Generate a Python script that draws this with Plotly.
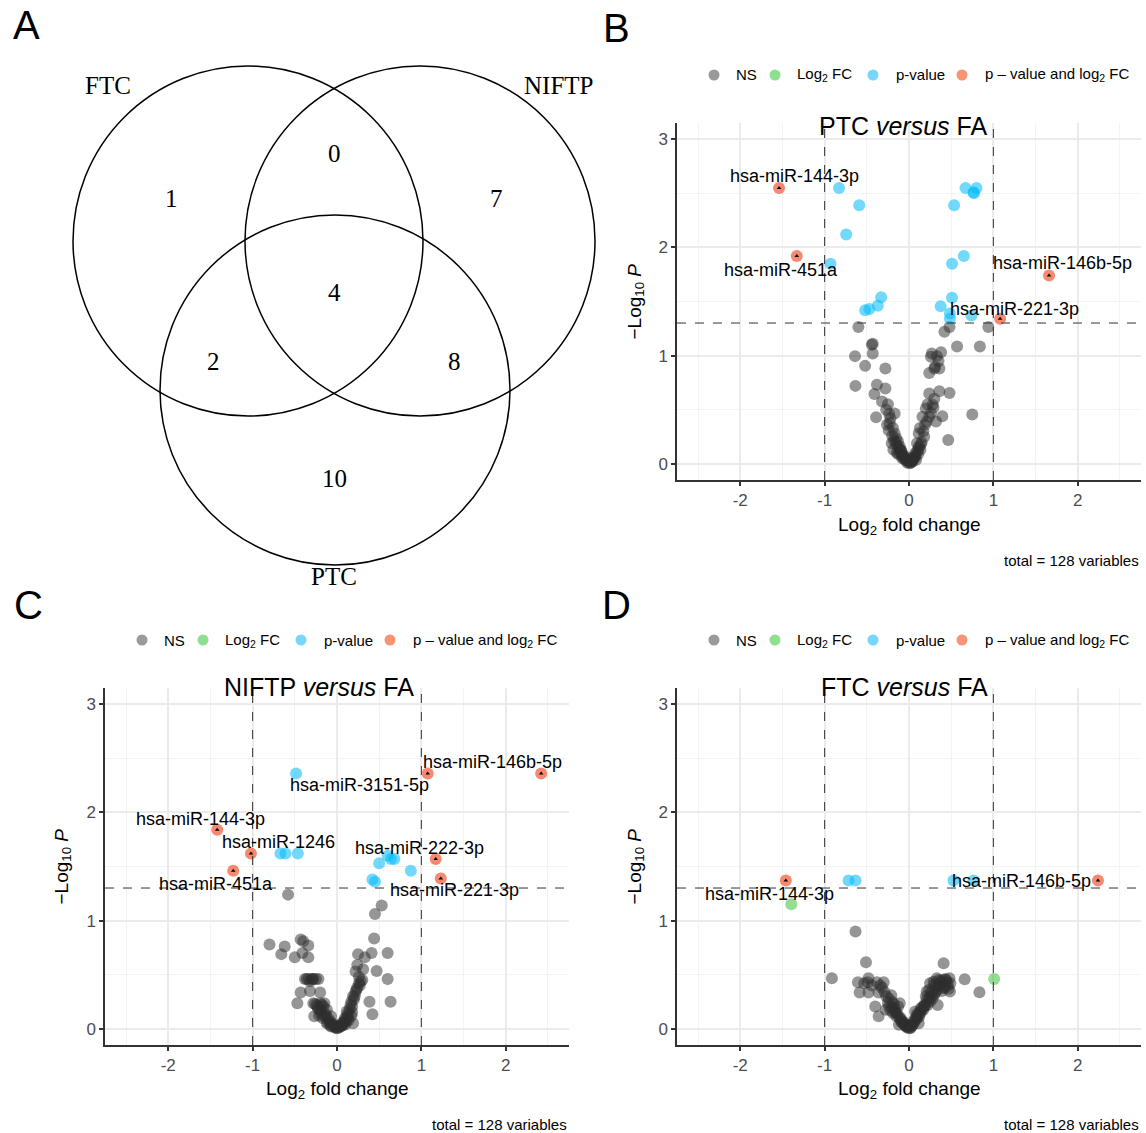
import math
import plotly.graph_objects as go

W, H = 1146, 1133

def P(x):
    return x / W

def Q(y):
    return 1 - y / H

# ---------------- DATA ----------------
# Venn counts
venn_sets = ["FTC", "NIFTP", "PTC"]
venn_counts = {"FTC": 1, "NIFTP": 7, "PTC": 10, "FTC&NIFTP": 0, "FTC&PTC": 2,
               "NIFTP&PTC": 8, "ALL": 4}

categories = ["NS", "Log<sub>2</sub> FC", "p-value", "p \u2013 value and log<sub>2</sub> FC"]

# Panel B: PTC versus FA
b_ns_fc = [-0.60, -0.43, -0.44, -0.43, -0.64, -0.52, -0.28, -0.635, -0.38, -0.28, -0.41, -0.32, -0.25,
           -0.39, -0.235, -0.17, -0.23, -0.19, -0.17, -0.15, -0.13, -0.185, -0.11, -0.09, -0.07, -0.04,
           -0.01, -0.11, -0.145, -0.08, -0.205, -0.24, -0.16, -0.12, -0.10, -0.06, -0.05, -0.03, -0.02,
           -0.14, -0.20, -0.22, -0.27, -0.13, -0.08, -0.18, -0.26, -0.09, -0.05,
           0.42, 0.48, 0.94, 0.57, 0.84, 0.27, 0.38, 0.33, 0.26, 0.31, 0.36, 0.24, 0.24, 0.36, 0.48,
           0.22, 0.28, 0.20, 0.16, 0.24, 0.32, 0.395, 0.75, 0.465, 0.115, 0.13, 0.095, 0.115, 0.075,
           0.055, 0.03, 0.025, 0.085, 0.135, 0.18, 0.21, 0.01, 0.04, 0.06, 0.10, 0.15, 0.17, 0.19,
           0.26, 0.29, 0.30, 0.02, 0.07, 0.12, 0.35, 0.30, 0.08, 0.14, 0.05, 0.11]
b_ns_p = [1.265, 1.11, 1.10, 1.02, 0.995, 0.905, 0.88, 0.72, 0.73, 0.695, 0.645, 0.575, 0.55,
          0.43, 0.46, 0.465, 0.375, 0.33, 0.28, 0.235, 0.205, 0.13, 0.16, 0.11, 0.08, 0.05,
          0.02, 0.10, 0.105, 0.05, 0.19, 0.31, 0.20, 0.14, 0.13, 0.06, 0.04, 0.03, 0.01,
          0.17, 0.26, 0.42, 0.50, 0.09, 0.07, 0.22, 0.36, 0.12, 0.07,
          1.22, 1.265, 1.265, 1.085, 1.085, 1.02, 1.03, 0.995, 0.99, 0.895, 0.88, 0.84, 0.65, 0.67, 0.655,
          0.55, 0.545, 0.51, 0.435, 0.435, 0.39, 0.44, 0.455, 0.22, 0.28, 0.33, 0.19, 0.145, 0.10,
          0.05, 0.03, 0.012, 0.037, 0.13, 0.25, 0.39, 0.005, 0.02, 0.07, 0.12, 0.20, 0.30, 0.36,
          0.47, 0.52, 0.60, 0.015, 0.06, 0.16, 0.95, 0.88, 0.08, 0.18, 0.04, 0.09]
b_pv_fc = [-0.83, -0.59, -0.745, -0.93, -0.33, -0.37, -0.47, -0.52,
           0.67, 0.80, 0.77, 0.765, 0.535, 0.65, 0.51, 0.51, 0.375, 0.485, 0.485, 0.74]
b_pv_p = [2.55, 2.39, 2.12, 1.85, 1.54, 1.46, 1.43, 1.42,
          2.55, 2.55, 2.50, 2.51, 2.39, 1.92, 1.85, 1.535, 1.455, 1.39, 1.34, 1.37]
b_both_fc = [-1.54, -1.33, 1.66, 1.08]
b_both_p = [2.55, 1.92, 1.74, 1.34]
b_fc_fc = []
b_fc_p = []
b_lab_names = ["hsa-miR-144-3p", "hsa-miR-451a", "hsa-miR-146b-5p", "hsa-miR-221-3p"]

# Panel C: NIFTP versus FA
c_ns_fc = [-0.58, 0.53, 0.45, 0.44, -0.80, -0.62, -0.66, -0.43, -0.40, -0.34, -0.41, -0.50, -0.34,
           0.25, 0.33, 0.41, 0.60, 0.24, 0.22, 0.26, 0.47, 0.60, 0.635, 0.42, -0.34, -0.28, -0.22,
           -0.32, -0.43, -0.32, -0.20, -0.47, -0.28, -0.195, -0.15, -0.27, -0.15, -0.07, -0.12, -0.09,
           -0.04, -0.01, 0.01, 0.055, 0.095, 0.135, 0.18, 0.17, 0.19, 0.22, 0.26, 0.30, 0.19, 0.385,
           0.115, -0.195, -0.16, 0.065, -0.25, -0.30, -0.24, -0.18, -0.22, -0.13, -0.10, -0.06, -0.03,
           0.03, 0.08, 0.12, 0.15, 0.21, 0.24, 0.28, 0.14, 0.10, -0.17, -0.11, -0.05, 0.02, 0.05,
           0.16, 0.23, -0.36, -0.26, -0.21, 0.31, 0.20, -0.08, 0.07, -0.14, 0.13, -0.02, 0.04,
           -0.29, -0.38, -0.23, 0.27, 0.18, 0.11, -0.12, -0.07, 0.09, 0.00, -0.19, 0.17]
c_ns_p = [1.24, 1.14, 1.06, 0.835, 0.78, 0.76, 0.69, 0.826, 0.81, 0.77, 0.70, 0.66, 0.66,
          0.69, 0.66, 0.70, 0.70, 0.59, 0.53, 0.48, 0.535, 0.46, 0.25, 0.135, 0.46, 0.46, 0.46,
          0.44, 0.335, 0.35, 0.335, 0.235, 0.235, 0.235, 0.235, 0.115, 0.115, 0.115, 0.175, 0.07,
          0.04, 0.012, 0.02, 0.05, 0.10, 0.145, 0.205, 0.25, 0.30, 0.34, 0.42, 0.45, 0.05, 0.25,
          0.16, 0.145, 0.205, 0.03, 0.46, 0.46, 0.22, 0.22, 0.18, 0.12, 0.09, 0.05, 0.02,
          0.02, 0.06, 0.12, 0.18, 0.30, 0.38, 0.44, 0.08, 0.04, 0.10, 0.06, 0.03, 0.01, 0.03,
          0.22, 0.36, 0.46, 0.23, 0.12, 0.55, 0.27, 0.03, 0.04, 0.14, 0.10, 0.01, 0.02,
          0.46, 0.46, 0.20, 0.40, 0.15, 0.07, 0.05, 0.02, 0.08, 0.005, 0.17, 0.12]
c_pv_fc = [-0.485, -0.67, -0.61, -0.465, 0.50, 0.60, 0.64, 0.68, 0.875, 0.42, 0.45]
c_pv_p = [2.36, 1.62, 1.62, 1.62, 1.53, 1.60, 1.57, 1.57, 1.46, 1.38, 1.36]
c_both_fc = [2.42, 1.075, -1.42, -1.02, -1.23, 1.17, 1.23]
c_both_p = [2.36, 2.36, 1.84, 1.62, 1.46, 1.57, 1.39]
c_fc_fc = []
c_fc_p = []
c_lab_names = ["hsa-miR-146b-5p", "hsa-miR-3151-5p", "hsa-miR-144-3p", "hsa-miR-1246",
               "hsa-miR-222-3p", "hsa-miR-451a", "hsa-miR-221-3p"]

# Panel D: FTC versus FA
d_ns_fc = [-0.634, -0.51, -0.914, -0.605, -0.48, -0.49, -0.38, -0.30, -0.585, -0.48, -0.36, -0.21,
           -0.40, -0.36, -0.275, -0.235, -0.17, -0.13, -0.19, -0.15, -0.12, -0.10, -0.07, -0.037,
           -0.008, 0.025, 0.053, 0.095, 0.136, 0.17, 0.22, 0.25, 0.34, 0.20, 0.21, 0.24, 0.25, 0.29,
           0.33, 0.40, 0.48, 0.66, 0.41, 0.485, 0.835, 0.36, 0.30, 0.115, 0.074, -0.11,
           -0.25, -0.20, -0.16, -0.09, -0.05, -0.02, 0.01, 0.04, 0.07, 0.11, 0.15, 0.19, 0.27, 0.31,
           0.35, 0.38, 0.44, 0.46, 0.42, 0.37, 0.28, 0.23, 0.18, 0.13, 0.08, -0.06, -0.14, -0.22,
           -0.27, -0.32, -0.44, -0.53, 0.45, 0.39, 0.32, 0.26, 0.16, 0.10, 0.03, -0.03, -0.08, -0.18,
           -0.24, -0.29, -0.34, 0.43, 0.35, 0.30, 0.21, 0.14, 0.06, -0.04, -0.12, -0.20, 0.49, 0.02,
           0.12, 0.24, 0.34, -0.10, -0.16, 0.47, 0.41, 0.28, 0.18, 0.09]
d_ns_p = [0.90, 0.615, 0.467, 0.43, 0.467, 0.43, 0.43, 0.43, 0.335, 0.335, 0.335, 0.31,
          0.205, 0.115, 0.175, 0.205, 0.19, 0.205, 0.145, 0.115, 0.037, 0.083, 0.068, 0.037,
          0.015, 0.02, 0.05, 0.10, 0.145, 0.175, 0.22, 0.25, 0.22, 0.30, 0.345, 0.36, 0.42, 0.435,
          0.467, 0.45, 0.467, 0.457, 0.605, 0.345, 0.337, 0.39, 0.32, 0.05, 0.16, 0.235,
          0.24, 0.20, 0.15, 0.06, 0.03, 0.01, 0.005, 0.03, 0.07, 0.12, 0.17, 0.21, 0.30, 0.33,
          0.40, 0.42, 0.45, 0.40, 0.38, 0.44, 0.28, 0.26, 0.22, 0.16, 0.09, 0.05, 0.14, 0.17,
          0.30, 0.38, 0.40, 0.42, 0.43, 0.35, 0.40, 0.33, 0.20, 0.14, 0.04, 0.02, 0.06, 0.23,
          0.28, 0.34, 0.40, 0.46, 0.45, 0.41, 0.27, 0.19, 0.08, 0.03, 0.11, 0.25, 0.42, 0.01,
          0.11, 0.29, 0.36, 0.10, 0.16, 0.37, 0.38, 0.35, 0.21, 0.12]
d_pv_fc = [-0.716, -0.634, 0.527, 0.765]
d_pv_p = [1.37, 1.37, 1.37, 1.37]
d_both_fc = [-1.46, 2.24]
d_both_p = [1.37, 1.37]
d_fc_fc = [-1.395, 1.01]
d_fc_p = [1.15, 0.46]
d_lab_names = ["hsa-miR-144-3p", "hsa-miR-146b-5p"]

x_ticks = [-2, -1, 0, 1, 2]
x_tick_labels = ["-2", "-1", "0", "1", "2"]
y_ticks = [0, 1, 2, 3]
fc_cutoff = 1.0
p_cutoff = 0.05
total_vars = 128

# ---------------- STYLE / LAYOUT ----------------
SANS = "Liberation Sans, Arial, sans-serif"
SERIF = "Liberation Serif, Times New Roman, serif"
COL_NS = "rgba(45,45,45,0.5)"
COL_FC = "rgba(40,190,40,0.5)"
COL_PV = "rgba(0,185,250,0.55)"
COL_BOTH = "rgba(240,75,35,0.65)"
LEG_COLS = ["#9a9a9a", "#8fdf8f", "#78d6fd", "#f89475"]

# panel pixel boxes: (left, right, top, bottom)
panels = {
    "B": dict(box=(677, 1141, 123, 480), title="PTC <i>versus</i> FA", title_xy=(903, 126),
              ns=(b_ns_fc, b_ns_p), fc=(b_fc_fc, b_fc_p), pv=(b_pv_fc, b_pv_p), both=(b_both_fc, b_both_p),
              labels=b_lab_names, lab_pos=[(-1.36, 2.66), (-1.52, 1.79), (1.82, 1.86), (1.25, 1.43)],
              legend_y=75, leg_dx=0, ytitle_x=635, xtitle_y=526, cap_y=560),
    "C": dict(box=(105, 569, 688, 1045), title="NIFTP <i>versus</i> FA", title_xy=(319, 687),
              ns=(c_ns_fc, c_ns_p), fc=(c_fc_fc, c_fc_p), pv=(c_pv_fc, c_pv_p), both=(c_both_fc, c_both_p),
              labels=c_lab_names,
              lab_pos=[(1.84, 2.47), (0.27, 2.25), (-1.62, 1.94), (-0.69, 1.73), (0.975, 1.67),
                       (-1.43, 1.34), (1.39, 1.28)],
              legend_y=640, leg_dx=-572, ytitle_x=62, xtitle_y=1090, cap_y=1124),
    "D": dict(box=(677, 1141, 688, 1045), title="FTC <i>versus</i> FA", title_xy=(904, 687),
              ns=(d_ns_fc, d_ns_p), fc=(d_fc_fc, d_fc_p), pv=(d_pv_fc, d_pv_p), both=(d_both_fc, d_both_p),
              labels=d_lab_names, lab_pos=[(-1.65, 1.25), (1.33, 1.37)],
              legend_y=640, leg_dx=0, ytitle_x=635, xtitle_y=1090, cap_y=1124),
}

fig = go.Figure()
annotations = []
shapes = []


def ann(xp, yp, text, size, family=SANS, xanchor="center", angle=0):
    return dict(x=P(xp), y=Q(yp), xref="paper", yref="paper", text=text, showarrow=False,
                xanchor=xanchor, yanchor="middle", textangle=angle,
                font=dict(family=family, size=size, color="black"))


axis_common = dict(showline=True, linecolor="#333333", linewidth=1.5, mirror=False,
                   ticks="outside", ticklen=4, tickwidth=1.5, tickcolor="#333333",
                   tickfont=dict(family=SANS, size=17, color="#4d4d4d"),
                   showgrid=True, gridcolor="#ebebeb", gridwidth=1.6, zeroline=False,
                   fixedrange=True)

hline = -math.log10(p_cutoff)

for idx, (name, pn) in enumerate(panels.items()):
    sfx = "" if idx == 0 else str(idx + 1)
    xa, ya = "x" + sfx, "y" + sfx
    l, r, t, b = pn["box"]
    for (xs, ys), col, cat in zip([pn["ns"], pn["fc"], pn["pv"], pn["both"]],
                                  [COL_NS, COL_FC, COL_PV, COL_BOTH], categories):
        fig.add_trace(go.Scatter(x=xs, y=ys, mode="markers", xaxis=xa, yaxis=ya,
                                 marker=dict(size=12, color=col, line=dict(width=0)),
                                 name=cat, showlegend=False, hoverinfo="skip"))
    # connector arrow heads at labelled points
    fig.add_trace(go.Scatter(x=pn["both"][0], y=pn["both"][1], mode="markers", xaxis=xa, yaxis=ya,
                             marker=dict(size=4, color="black", symbol="triangle-up"),
                             showlegend=False, hoverinfo="skip"))

    fig.update_layout(**{
        "xaxis" + sfx: dict(axis_common, domain=[P(l), P(r)], range=[-2.75, 2.75], anchor=ya,
                            tickvals=x_ticks, ticktext=x_tick_labels,
                            minor=dict(tickvals=[-2.5, -1.5, -0.5, 0.5, 1.5, 2.5], showgrid=True,
                                       gridcolor="#f3f3f3", gridwidth=1, ticks="")),
        "yaxis" + sfx: dict(axis_common, domain=[Q(b), Q(t)], range=[-0.15, 3.15], anchor=xa,
                            tickvals=y_ticks,
                            minor=dict(tickvals=[0.5, 1.5, 2.5], showgrid=True,
                                       gridcolor="#f3f3f3", gridwidth=1, ticks="")),
    })

    # cutoff lines
    for xv in (-fc_cutoff, fc_cutoff):
        shapes.append(dict(type="line", xref=xa, yref=ya + " domain", x0=xv, x1=xv, y0=0, y1=1,
                           line=dict(color="#333333", width=1, dash="dash")))
    shapes.append(dict(type="line", xref=xa + " domain", yref=ya, x0=0, x1=1, y0=hline, y1=hline,
                       line=dict(color="#333333", width=1, dash="dash")))

    # gene labels
    for lab, (lx, ly) in zip(pn["labels"], pn["lab_pos"]):
        annotations.append(dict(x=lx, y=ly, xref=xa, yref=ya, text=lab, showarrow=False,
                                xanchor="center", yanchor="middle",
                                font=dict(family=SANS, size=18, color="black")))

    tx, ty = pn["title_xy"]
    annotations.append(ann(tx, ty, pn["title"], 25))
    annotations.append(ann((l + r) / 2, pn["xtitle_y"], "Log<sub>2</sub> fold change", 19))
    annotations.append(ann(pn["ytitle_x"], (t + b) / 2, "\u2212Log<sub>10</sub> <i>P</i>", 19, angle=-90))
    annotations.append(ann(r, pn["cap_y"], "total = %d variables" % total_vars, 15, xanchor="right"))

    # legend
    leg_circles = [714, 775, 873, 962]
    leg_texts = [734, 795, 894, 983]
    ly = pn["legend_y"]
    for cx, txp, lab, col in zip(leg_circles, leg_texts, categories, LEG_COLS):
        cx += pn["leg_dx"]
        txp += pn["leg_dx"]
        shapes.append(dict(type="circle", xref="paper", yref="paper",
                           x0=P(cx - 5.5), x1=P(cx + 5.5), y0=Q(ly + 5.5), y1=Q(ly - 5.5),
                           fillcolor=col, line=dict(width=0)))
        annotations.append(ann(txp, ly, lab, 15, xanchor="left"))

# ---------------- VENN (panel A) ----------------
venn_circles = {"FTC": (248, 241), "NIFTP": (420, 241), "PTC": (335, 390)}
venn_r = 175
for s in venn_sets:
    cx, cy = venn_circles[s]
    shapes.append(dict(type="circle", xref="paper", yref="paper",
                       x0=P(cx - venn_r), x1=P(cx + venn_r), y0=Q(cy + venn_r), y1=Q(cy - venn_r),
                       line=dict(color="black", width=1.5), fillcolor="rgba(0,0,0,0)"))
venn_label_pos = {"FTC": (108, 85), "NIFTP": (558, 85), "PTC": (334, 577)}
for s in venn_sets:
    vx, vy = venn_label_pos[s]
    annotations.append(ann(vx, vy, s, 25, family=SERIF))
venn_count_pos = {"FTC": (171, 198), "NIFTP": (496, 198), "PTC": (334, 479),
                  "FTC&NIFTP": (334, 154), "FTC&PTC": (213, 361), "NIFTP&PTC": (454, 361),
                  "ALL": (334, 292)}
for k, v in venn_counts.items():
    vx, vy = venn_count_pos[k]
    annotations.append(ann(vx, vy, str(v), 25, family=SERIF))

# panel letters
for letter, (lx, ly) in {"A": (26, 25), "B": (616, 28), "C": (28, 605), "D": (616, 605)}.items():
    annotations.append(ann(lx, ly, letter, 40))

fig.update_layout(width=W, height=H, autosize=False, margin=dict(l=0, r=0, t=0, b=0, pad=0),
                  paper_bgcolor="white", plot_bgcolor="white", showlegend=False,
                  annotations=annotations, shapes=shapes, hovermode=False)

fig.write_html("out.html", config={"displayModeBar": False},
               post_script="document.body.style.margin='0px';")
